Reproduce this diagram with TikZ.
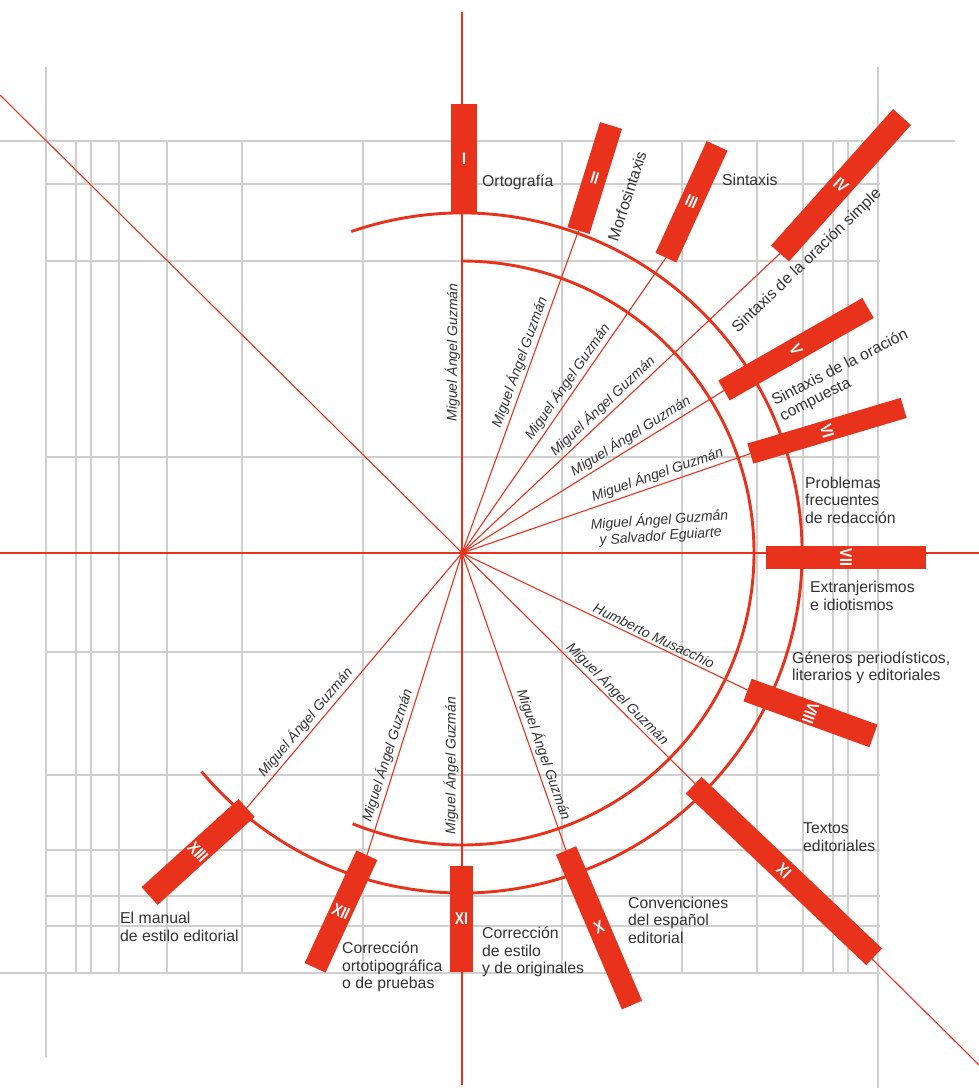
\documentclass[tikz,border=0pt]{standalone}
\usepackage{fontspec}
\setmainfont{Liberation Sans}
\usetikzlibrary{calc}
\definecolor{rojo}{HTML}{E8321C}
\definecolor{gridgray}{HTML}{CFCFCF}
\definecolor{ink}{HTML}{333333}
\newcommand\numup[1]{\rotatebox{-90}{\scalebox{0.82}[1]{#1}}}
\newcommand\numdn[1]{\rotatebox{90}{\scalebox{0.82}[1]{#1}}}
\newcommand\numin[1]{\rotatebox{180}{\scalebox{0.82}[1]{#1}}}
\pgfdeclarelayer{bg}
\pgfsetlayers{bg,main}
\begin{document}
\begin{tikzpicture}[x=1pt,y=-1pt,
  gridline/.style={draw=gridgray, line width=2.4pt},
  ray/.style={draw=rojo, line width=1.1pt},
  arcline/.style={draw=rojo, line width=2.9pt},
  bar/.style={fill=rojo, draw=none, inner sep=0pt, minimum height=23pt, text=white,
    font=\fontsize{17}{17}\selectfont\bfseries},
  author/.style={font=\fontsize{14}{16}\selectfont\itshape, text=ink, inner sep=3pt},
  title/.style={font=\fontsize{15.8}{17.5}\selectfont, text=ink, align=left, anchor=west, inner sep=0pt},
]
\useasboundingbox (0,0) rectangle (979,1090);
\coordinate (O) at (462,553);
\coordinate (topend) at (462,12);
\coordinate (botend) at (462,1085);
\coordinate (lftend) at (0,553);
\coordinate (rgtend) at (979,553);
\coordinate (nwend) at (0,95);
\coordinate (seend) at (979,1065);

% bars
\node[bar, minimum width=109pt, minimum height=26pt, rotate=90] (b1) at (464,158.5) {\numup{I}};
\node[bar, minimum width=110pt, rotate=72.8] (b2) at (594.75,178) {\numup{II}};
\node[bar, minimum width=123pt, rotate=65.4] (b3) at (691.5,201.75) {\numup{III}};
\node[bar, minimum width=183pt, minimum height=24pt, rotate=48.2] (b4) at (841,185.25) {\numup{IV}};
\node[bar, minimum width=166pt, rotate=29.8] (b5) at (796,349.25) {\numup{V}};
\node[bar, minimum width=160pt, minimum height=21pt, rotate=16.6] (b6) at (827,430.75) {\numup{VI}};
\node[bar, minimum width=160pt, rotate=0] (b7) at (846,557.5) {\numup{VII}};
\node[bar, minimum width=134pt, minimum height=24pt, rotate=-20.05] (b8) at (810.5,713) {\numup{VIII}};
\node[bar, minimum width=249pt, rotate=-43.55] (b9) at (783.85,871) {\numin{IX}};
\node[bar, minimum width=168pt, minimum height=22pt, rotate=-66.9] (b10) at (599,927.75) {\numdn{X}};
\node[bar, minimum width=106pt, rotate=-90] (b11) at (461.5,919) {\numdn{XI}};
\node[bar, minimum width=124pt, rotate=-114.7] (b12) at (341,911.5) {\numdn{XII}};
\node[bar, minimum width=131pt, minimum height=24pt, rotate=-137.8] (b13) at (198.1,852) {\numdn{XIII}};

\begin{pgfonlayer}{bg}
% grid
\foreach \x in {76,91,119,167,242,363,562,682,757,803,833,848}
  \draw[gridline] (\x,141) -- (\x,973);
\draw[gridline] (46,67) -- (46,1057);
\draw[gridline] (878,67) -- (878,1088);
\draw[gridline] (0,141) -- (955,141);
\foreach \y in {184,261,457,652,775,850,896,926}
  \draw[gridline] (45,\y) -- (880,\y);
\draw[gridline] (0,973) -- (880,973);
% axes
\draw[ray] (topend) -- (botend);
\draw[ray] (lftend) -- (rgtend);
\draw[ray] (nwend) -- (seend);
% arcs
\draw[arcline] (O) ++(-109:340) arc[start angle=-109, end angle=140, radius=340];
\draw[arcline] (O) ++(-90:292) arc[start angle=-90, end angle=112, radius=292];
% rays
\foreach \b in {b2,b3,b4,b5,b6,b8,b10,b12,b13}
  \draw[ray] (O) -- (\b.west);
\end{pgfonlayer}

% author labels
\path (O) -- (b1.west) node[author, pos=0.59, sloped, above] (a1) {Miguel Ángel Guzmán};
\path (O) -- (b2.west) node[author, pos=0.58, sloped, above] (a2) {Miguel Ángel Guzmán};
\path (O) -- (b3.west) node[author, pos=0.56, sloped, above] (a3) {Miguel Ángel Guzmán};
\path (O) -- (b4.west) node[author, pos=0.465, sloped, above] (a4) {Miguel Ángel Guzmán};
\path (O) -- (b5.west) node[author, pos=0.665, sloped, above] (a5) {Miguel Ángel Guzmán};
\path (O) -- (b6.west) node[author, pos=0.69, sloped, above] (a6) {Miguel Ángel Guzmán};
\node[author, rotate=4, align=center] (a7) at (660,528) {Miguel Ángel Guzmán\\y Salvador Eguiarte};
\path (O) -- (b8.west) node[author, pos=0.66, sloped, above] (a8) {Humberto Musacchio};
\path (O) -- (b9.west) node[author, pos=0.64, sloped, above] (a9) {Miguel Ángel Guzmán};
\path (O) -- (b10.west) node[author, pos=0.69, sloped, above] (a10) {Miguel Ángel Guzmán};
\path (b11.west) -- (O) node[author, pos=0.32, sloped, above] (a11) {Miguel Ángel Guzmán};
\path (O) -- (b12.west) node[author, pos=0.68, sloped, above] (a12) {Miguel Ángel Guzmán};
\path (O) -- (b13.west) node[author, pos=0.69, sloped, above] (a13) {Miguel Ángel Guzmán};

% titles
\node[title] (t1) at (482,182) {Ortografía};
\node[title, rotate=72, anchor=center] (t2) at (627,196) {Morfosintaxis};
\node[title] (t3) at (722,180) {Sintaxis};
\node[title, rotate=44, anchor=center] (t4) at (807,261) {Sintaxis de la oración simple};
\node[title, rotate=27] (t5) at (777,410) {Sintaxis de la oración\\compuesta};
\node[title] (t6) at (805,500) {Problemas\\frecuentes\\de redacción};
\node[title] (t7) at (810,596) {Extranjerismos\\e idiotismos};
\node[title] (t8) at (792,668) {Géneros periodísticos,\\literarios y editoriales};
\node[title] (t9) at (803,837) {Textos\\editoriales};
\node[title] (t10) at (628,920) {Convenciones\\del español\\editorial};
\node[title] (t11) at (482,952) {Corrección\\de estilo\\y de originales};
\node[title] (t12) at (342,967) {Corrección\\ortotipográfica\\o de pruebas};
\node[title] (t13) at (120,927) {El manual\\de estilo editorial};
\end{tikzpicture}
\end{document}
